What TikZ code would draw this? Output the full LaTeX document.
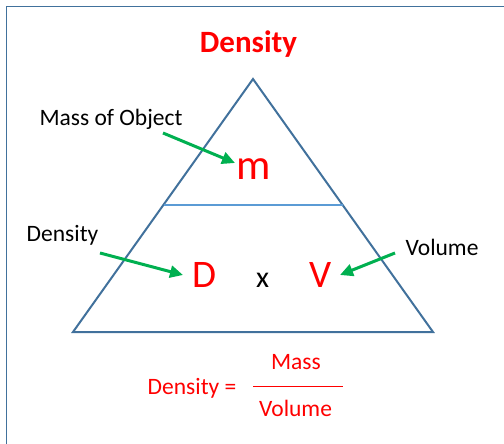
\documentclass[tikz,border=0pt]{standalone}
\usepackage{fontspec}
\setmainfont{Carlito}
\usetikzlibrary{arrows.meta}
\definecolor{triblue}{HTML}{41719C}
\definecolor{midblue}{HTML}{5B9BD5}
\definecolor{arrgreen}{HTML}{00B050}
\definecolor{redtxt}{HTML}{FF0000}

\begin{document}
\begin{tikzpicture}[x=1pt,y=-1pt,
  every node/.style={inner sep=0pt,anchor=base},
  lbl/.style={font=\fontsize{23.5}{28}\selectfont},
  big/.style={text=redtxt,font=\fontsize{39}{44}\selectfont},
  pointer/.style={-{Triangle[length=13pt,width=12pt]},arrgreen,line width=3pt}]
  \useasboundingbox (0,0) rectangle (504,444);
  \draw[triblue,line width=1.5pt] (6.5,444) -- (6.5,6.5) -- (504,6.5);

  % triangle
  \coordinate (top) at (253,79);
  \coordinate (bl) at (73,332);
  \coordinate (br) at (433,332);
  \draw[triblue,line width=2pt,line join=miter] (top) -- (br) -- (bl) -- cycle;
  \draw[midblue,line width=2pt] (164,205) -- (343,205);

  % texts
  \node[text=redtxt,font=\bfseries\fontsize{31}{36}\selectfont] (title) at (248.5,53) {Density};
  \node[lbl] (mobj) at (111,125) {Mass of Object};
  \node[lbl] (dlbl) at (62.5,241) {Density};
  \node[lbl] (vlbl) at (442,255.5) {Volume};
  \node[text=redtxt,font=\fontsize{43}{48}\selectfont] (m) at (254,179) {m};
  \node[big] (D) at (204.5,287) {D};
  \node[font=\fontsize{30}{34}\selectfont] (x) at (262.5,287) {x};
  \node[big] (V) at (321,287) {V};

  % formula
  \node[lbl,text=redtxt] (dens) at (192,394) {Density =};
  \node[lbl,text=redtxt] (mass) at (296,369) {Mass};
  \node[lbl,text=redtxt] (vol) at (295.5,416.5) {Volume};
  \draw[redtxt,line width=1pt] (253,386) -- (343,386);

  % pointers
  \coordinate (m0) at (163,133);
  \coordinate (m1) at (235,163);
  \coordinate (d0) at (100,253);
  \coordinate (d1) at (183,275);
  \coordinate (v0) at (395,253);
  \coordinate (v1) at (340,275);
  \draw[pointer] (m0) -- (m1);
  \draw[pointer] (d0) -- (d1);
  \draw[pointer] (v0) -- (v1);
\end{tikzpicture}
\end{document}
